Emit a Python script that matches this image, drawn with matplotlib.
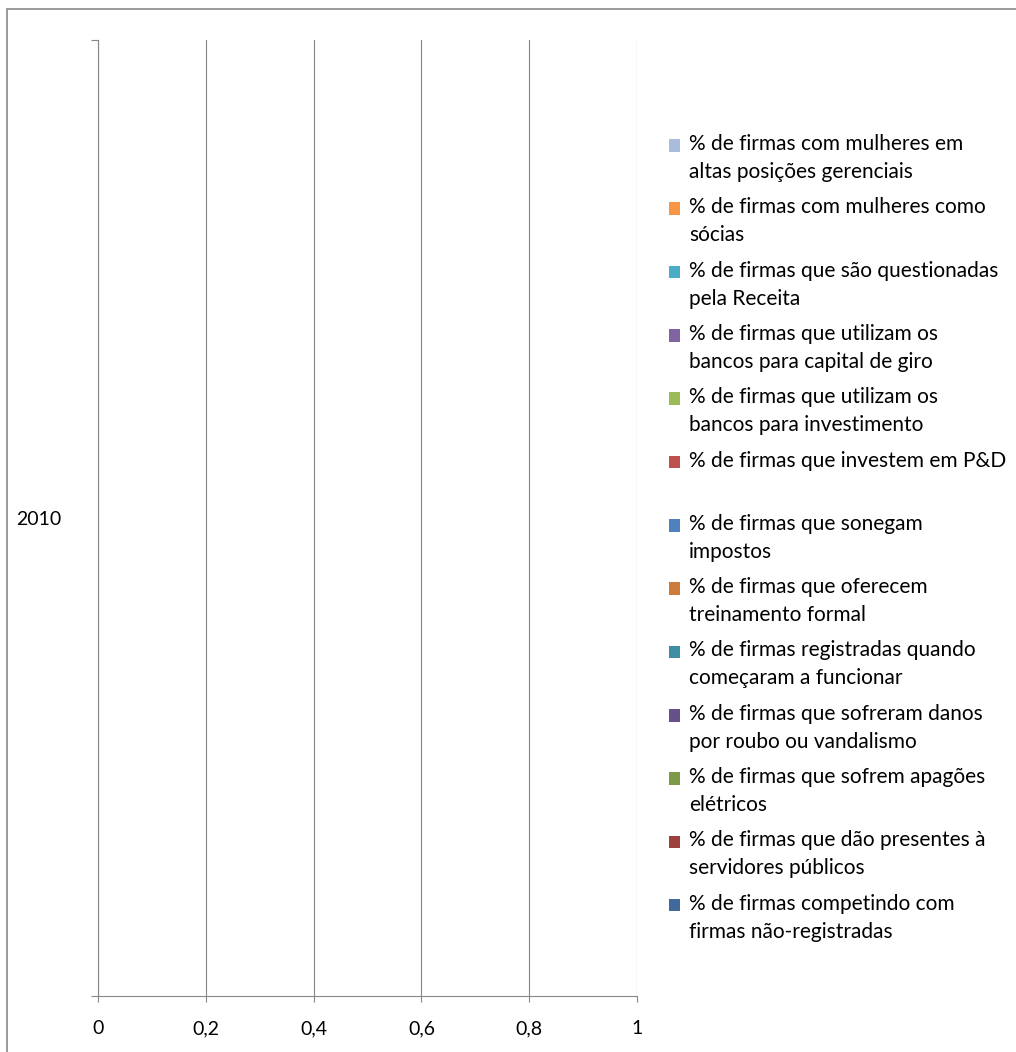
import numpy as np
import matplotlib.pyplot as plt
from matplotlib.patches import Rectangle
from matplotlib.container import BarContainer
from matplotlib.legend_handler import HandlerPatch, update_from_first_child

plt.rcParams['font.family'] = ['Lato', 'DejaVu Sans']

categories = ['2010']
series_names = [
    '% de firmas com mulheres em\naltas posições gerenciais',
    '% de firmas com mulheres como\nsócias',
    '% de firmas que são questionadas\npela Receita',
    '% de firmas que utilizam os\nbancos para capital de giro',
    '% de firmas que utilizam os\nbancos para investimento',
    '% de firmas que investem em P&D\n',
    '% de firmas que sonegam\nimpostos',
    '% de firmas que oferecem\ntreinamento formal',
    '% de firmas registradas quando\ncomeçaram a funcionar',
    '% de firmas que sofreram danos\npor roubo ou vandalismo',
    '% de firmas que sofrem apagões\nelétricos',
    '% de firmas que dão presentes à\nservidores públicos',
    '% de firmas competindo com\nfirmas não-registradas',
]
series_colors = ['#A9BCDC', '#F79646', '#4BACC6', '#8064A2', '#9BBB59',
                 '#C0504D', '#4F81BD', '#CD7B3B', '#3D8EA3', '#65508A',
                 '#7D9A48', '#9E413E', '#41699C']
# no values reported for 2010 in the source chart
series_values = [[0.0] for _ in series_names]
x_ticks = [0, 0.2, 0.4, 0.6, 0.8, 1.0]
x_tick_labels = ['0', '0,2', '0,4', '0,6', '0,8', '1']

W, H = 1016, 1052
fig = plt.figure(figsize=(W / 100, H / 100), dpi=100)
ax = fig.add_axes([98 / W, (H - 996) / H, (637 - 98) / W, (996 - 40) / H])

axis_gray = '#868686'
n = len(series_names)
bar_h = 0.8 / n
y = np.arange(len(categories))
for i, (name, vals, col) in enumerate(zip(series_names, series_values, series_colors)):
    ax.barh(y - 0.4 + (n - 1 - i + 0.5) * bar_h, vals, height=bar_h,
            color=col, label=name)

ax.set_xlim(0, 1)
ax.set_ylim(-0.5, 0.5)
ax.set_xticks(x_ticks)
ax.set_xticklabels(x_tick_labels, fontsize=14)
ax.set_yticks([-0.5, 0.5])
ax.set_yticklabels([])
ax.set_yticks(y, minor=True)
ax.set_yticklabels(categories, minor=True, fontsize=14)
ax.tick_params(axis='y', which='minor', length=0, pad=26)
ax.tick_params(axis='y', which='major', length=5, width=0.8, color=axis_gray)
ax.tick_params(axis='x', length=4.5, width=0.8, color=axis_gray, pad=13)
ax.grid(axis='x', color=axis_gray, linewidth=0.8)
ax.set_axisbelow(True)
for s in ['top', 'right']:
    ax.spines[s].set_visible(False)
for s in ['left', 'bottom']:
    ax.spines[s].set_color(axis_gray)
    ax.spines[s].set_linewidth(0.8)


def top_line_patch(legend, orig_handle, xdescent, ydescent, width, height, fontsize):
    # keep the colour box next to the first line of the label
    return Rectangle((-xdescent, -ydescent + 9.5), width, height)


handles, labels = ax.get_legend_handles_labels()
leg = fig.legend(handles, labels, loc='upper left',
                 bbox_to_anchor=(669 / W, 1 - 134 / H), frameon=False,
                 fontsize=15, handlelength=0.55, handleheight=0.55,
                 handletextpad=0.4, labelspacing=0.735, borderpad=0,
                 borderaxespad=0,
                 handler_map={BarContainer: HandlerPatch(
                     patch_func=top_line_patch,
                     update_func=update_from_first_child)})
for t in leg.get_texts():
    t.set_linespacing(1.5)

fig.patches.append(Rectangle((7 / W, -0.1), 1.2, (H - 9) / H + 0.1,
                             transform=fig.transFigure, fill=False,
                             edgecolor='#898989', linewidth=1.2))

fig.savefig('out.png', dpi=100)
